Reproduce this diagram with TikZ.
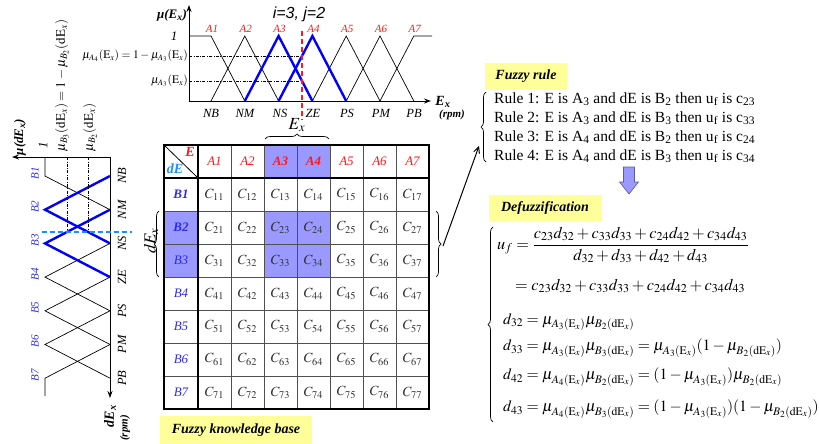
\documentclass[tikz,border=0pt]{standalone}
\usepackage{amsmath}
\usepackage{mathptmx}
\usepackage{fontspec}
\setmainfont{Liberation Serif}
\setsansfont{Liberation Sans}
\usetikzlibrary{decorations.pathreplacing,arrows.meta}
\definecolor{lav}{RGB}{153,153,255}
\definecolor{ylw}{RGB}{255,255,153}
\definecolor{ared}{RGB}{255,25,25}
\definecolor{bblue}{RGB}{45,45,235}
\definecolor{lblue}{RGB}{30,140,255}
\definecolor{gridc}{RGB}{80,80,80}
\begin{document}
\begin{tikzpicture}[x=1pt,y=-1pt,
  mf/.style={line width=0.7pt},
  bmf/.style={blue, line width=2.4pt},
  axisline/.style={line width=1pt,-{Stealth[length=7pt,width=5pt]}},
  ddot/.style={line width=0.6pt, dash pattern=on 3pt off 1.5pt on 0.7pt off 1.5pt},
  lingo/.style={font=\fontsize{12.5}{14}\selectfont\itshape, inner sep=0pt},
  alab/.style={font=\fontsize{11}{13}\selectfont\itshape, text=ared, inner sep=0pt},
  blab/.style={font=\fontsize{11}{13}\selectfont\itshape, text=bblue, inner sep=0pt, rotate=90},
  hdr/.style={font=\fontsize{13}{15}\selectfont\itshape, text=ared, inner sep=0pt},
  rowl/.style={font=\fontsize{13}{15}\selectfont\itshape, text=bblue, inner sep=0pt},
  cell/.style={font=\fontsize{14}{16}\selectfont, text=black!80, inner sep=0pt},
  mlab/.style={font=\fontsize{11.5}{13}\selectfont, inner sep=0pt},
  ybox/.style={fill=ylw, font=\fontsize{14}{16}\selectfont\bfseries\itshape, inner sep=0pt},
  rule/.style={font=\fontsize{15.5}{18}\selectfont, anchor=west, inner sep=0pt},
  eq/.style={font=\fontsize{16.3}{19}\selectfont, anchor=west, inner sep=0pt},
  deq/.style={font=\fontsize{15.7}{18}\selectfont, anchor=west, inner sep=0pt},
  brc/.style={decorate, decoration={brace, amplitude=5pt}, line width=0.7pt}
]
\useasboundingbox (0,0) rectangle (819,444);

% ===== top membership chart =====
\coordinate (o1) at (189,101);
\coordinate (x1) at (431,101);
\coordinate (y1) at (189,5);
\draw[mf] (189,36) -- (211,36) -- (244.8,101);
\draw[mf] (211,101) -- (244.8,36) -- (278.6,101);
\draw[mf] (244.8,101) -- (278.6,36) -- (312.4,101);
\draw[mf] (278.6,101) -- (312.4,36) -- (346.2,101);
\draw[mf] (312.4,101) -- (346.2,36) -- (380,101);
\draw[mf] (346.2,101) -- (380,36) -- (413.8,101);
\draw[mf] (380,101) -- (413.8,36) -- (432,36);
\draw[bmf] (244.8,101) -- (278.6,36) -- (312.4,101);
\draw[bmf] (278.6,101) -- (312.4,36) -- (346.2,101);
\draw[axisline] (o1) -- (x1);
\draw[axisline] (o1) -- (y1);
\draw[ddot] (189,56) -- (302,56);
\draw[ddot] (189,81) -- (302,81);
\draw[ared, line width=1.6pt, dash pattern=on 5pt off 3pt] (302,31) -- (302,120);

\foreach \k/\x in {1/212,2/245.8,3/279.6,4/313.4,5/347.2,6/381,7/414.8}
  \node[alab] (A\k) at (\x,29) {A\k};
\foreach \t/\x in {NB/211,NM/245,NS/280,ZE/313,PS/347,PM/381,PB/414}
  \node[lingo] (t\t) at (\x,113) {\t};
\node[font=\fontsize{16}{18}\selectfont\sffamily\itshape, inner sep=0pt] (ij) at (299,14) {i=3, j=2};
\node[font=\fontsize{13}{15}\selectfont\bfseries\itshape, inner sep=0pt] (muE) at (172,15) {μ(E\textsubscript{x})};
\node[font=\fontsize{13}{15}\selectfont\itshape, inner sep=0pt] (one1) at (174,36) {1};
\node[mlab, anchor=east] (muA4) at (188,56) {$\mu_{A_4}(\mathrm{E}_x)=1-\mu_{A_3}(\mathrm{E}_x)$};
\node[mlab, anchor=east] (muA3) at (188,81) {$\mu_{A_3}(\mathrm{E}_x)$};
\node[font=\fontsize{14}{16}\selectfont\bfseries\itshape, inner sep=0pt] (Exl) at (443,102) {E\textsubscript{x}};
\node[font=\fontsize{11}{13}\selectfont\bfseries\itshape, inner sep=0pt] (rpm1) at (452,115) {(rpm)};

% ===== left membership chart =====
\coordinate (o2) at (110,157);
\coordinate (x2) at (110,398);
\coordinate (y2) at (12,157);
\draw[mf] (45,157) -- (45,176) -- (110,209.7);
\draw[mf] (110,176) -- (45,209.7) -- (110,243.4);
\draw[mf] (110,209.7) -- (45,243.4) -- (110,277.1);
\draw[mf] (110,243.4) -- (45,277.1) -- (110,310.8);
\draw[mf] (110,277.1) -- (45,310.8) -- (110,344.5);
\draw[mf] (110,310.8) -- (45,344.5) -- (110,378.2);
\draw[mf] (110,344.5) -- (45,378.2) -- (45,396);
\draw[bmf] (110,176) -- (45,209.7) -- (110,243.4);
\draw[bmf] (110,209.7) -- (45,243.4) -- (110,277.1);
\draw[axisline] (o2) -- (x2);
\draw[axisline] (o2) -- (y2);
\draw[ddot] (67,157) -- (67,232);
\draw[ddot] (88,157) -- (88,232);
\draw[lblue, line width=1.5pt, dash pattern=on 5pt off 3pt] (42,232) -- (132,232);

\foreach \k/\y in {1/173,2/206.7,3/240.4,4/274.1,5/307.8,6/341.5,7/375.2}
  \node[blab] (B\k) at (35,\y) {B\k};
\foreach \t/\y in {NB/176,NM/209.7,NS/243.4,ZE/277.1,PS/310.8,PM/344.5,PB/378.2}
  \node[lingo, rotate=90] (s\t) at (122,\y) {\t};
\node[font=\fontsize{13}{15}\selectfont\bfseries\itshape, inner sep=0pt, rotate=90] (mudE) at (20,137) {μ(dE\textsubscript{x})};
\node[font=\fontsize{13}{15}\selectfont\itshape, inner sep=0pt, rotate=90] (one2) at (43,145) {1};
\node[font=\fontsize{13}{15}\selectfont, inner sep=0pt, rotate=90, anchor=west] (muB3) at (62,152) {$\mu_{B_3}(\mathrm{dE}_x)=1-\mu_{B_2}(\mathrm{dE}_x)$};
\node[font=\fontsize{13}{15}\selectfont, inner sep=0pt, rotate=90, anchor=west] (muB2) at (90,152) {$\mu_{B_2}(\mathrm{dE}_x)$};
\node[font=\fontsize{14}{16}\selectfont\bfseries\itshape, inner sep=0pt, rotate=90] (dExl) at (110,416) {dE\textsubscript{x}};
\node[font=\fontsize{11}{13}\selectfont\bfseries\itshape, inner sep=0pt, rotate=90] (rpm2) at (125,428) {(rpm)};

% ===== table =====
\fill[lav] (264,145) rectangle (330,178);
\fill[lav] (164,211) rectangle (198,277);
\fill[lav] (264,211) rectangle (330,277);
\foreach \x in {231,264,297,330,363,396}
  \draw[gridc, line width=0.7pt] (\x,145) -- (\x,409);
\foreach \y in {211,244,277,310,343,376}
  \draw[gridc, line width=0.7pt] (164,\y) -- (429,\y);
\draw[line width=1.8pt] (164,178) -- (429,178);
\draw[line width=1.8pt] (198,145) -- (198,409);
\draw[line width=1.8pt] (164,145) rectangle (429,409);
\draw[line width=0.8pt] (164,145) -- (198,178);
\node[font=\fontsize{14}{16}\selectfont\bfseries\itshape, text=ared, inner sep=0pt] (cE) at (190,152) {E};
\node[font=\fontsize{14}{16}\selectfont\bfseries\itshape, text=lblue, inner sep=0pt] (cdE) at (175,169) {dE};
\foreach \j in {1,...,7}{
  \pgfmathsetmacro{\cx}{214.5+33*(\j-1)}
  \ifnum\j=3 \node[hdr, font=\fontsize{13}{15}\selectfont\bfseries\itshape] (h\j) at (\cx,161.5) {A\j};
  \else\ifnum\j=4 \node[hdr, font=\fontsize{13}{15}\selectfont\bfseries\itshape] (h\j) at (\cx,161.5) {A\j};
  \else \node[hdr] (h\j) at (\cx,161.5) {A\j};\fi\fi
}
\foreach \i in {1,...,7}{
  \pgfmathsetmacro{\cy}{194.5+33*(\i-1)}
  \ifnum\i<3 \node[rowl, font=\fontsize{13}{15}\selectfont\bfseries\itshape] (r\i) at (181,\cy) {B\i};
  \else \node[rowl] (r\i) at (181,\cy) {B\i};\fi
  \foreach \j in {1,...,7}{
    \pgfmathsetmacro{\cx}{214.5+33*(\j-1)}
    \node[cell] (c\i\j) at (\cx,\cy) {$C_{\i\j}$};
  }
}
% braces
\draw[brc] (265,139) -- (329,139);
\node[font=\fontsize{17}{19}\selectfont, inner sep=0pt] (Exb) at (297,125) {$E_x$};
\draw[brc] (159,277) -- (159,211);
\node[font=\fontsize{17}{19}\selectfont, inner sep=0pt, rotate=90] (dExb) at (151,241) {$dE_x$};
\draw[brc] (436,211) -- (436,277);
\node[ybox, minimum width=152pt, minimum height=28pt] (kb) at (236,430) {Fuzzy knowledge base};

% ===== rules =====
\node[ybox, minimum width=82pt, minimum height=26pt] (fr) at (526,76) {Fuzzy rule};
\draw[brc] (486,162) -- (486,92);
\node[rule] (ru1) at (494,99) {Rule 1: E is A\textsubscript{3} and dE is B\textsubscript{2} then u\textsubscript{f} is c\textsubscript{23}};
\node[rule] (ru2) at (494,118) {Rule 2: E is A\textsubscript{3} and dE is B\textsubscript{3} then u\textsubscript{f} is c\textsubscript{33}};
\node[rule] (ru3) at (494,137) {Rule 3: E is A\textsubscript{4} and dE is B\textsubscript{2} then u\textsubscript{f} is c\textsubscript{24}};
\node[rule] (ru4) at (494,156) {Rule 4: E is A\textsubscript{4} and dE is B\textsubscript{3} then u\textsubscript{f} is c\textsubscript{34}};
\coordinate (tbt) at (443,246);
\coordinate (rbt) at (479,146);
\draw[line width=1pt, -{Straight Barb[length=6pt,width=6pt]}] (tbt) -- (rbt);
\draw[draw=lav!60!black, fill=lav, line width=0.6pt] (623.5,167) -- (634.5,167) -- (634.5,182) -- (638.5,182) -- (629,194) -- (619.5,182) -- (623.5,182) -- cycle;

% ===== defuzzification =====
\node[ybox, minimum width=113pt, minimum height=26pt] (df) at (545,208) {Defuzzification};
\draw[brc] (493,422) -- (493,227);
\node[eq] (e1) at (497,245) {$u_f=\dfrac{c_{23}d_{32}+c_{33}d_{33}+c_{24}d_{42}+c_{34}d_{43}}{d_{32}+d_{33}+d_{42}+d_{43}}$};
\node[eq] (e2) at (515,286) {$=c_{23}d_{32}+c_{33}d_{33}+c_{24}d_{42}+c_{34}d_{43}$};
\node[deq] (e3) at (503,322) {$d_{32}=\mu_{A_3(\mathrm{E}_x)}\mu_{B_2(\mathrm{dE}_x)}$};
\node[deq] (e4) at (503,348) {$d_{33}=\mu_{A_3(\mathrm{E}_x)}\mu_{B_3(\mathrm{dE}_x)}=\mu_{A_3(\mathrm{E}_x)}(1-\mu_{B_2(\mathrm{dE}_x)})$};
\node[deq] (e5) at (503,377) {$d_{42}=\mu_{A_4(\mathrm{E}_x)}\mu_{B_2(\mathrm{dE}_x)}=(1-\mu_{A_3(\mathrm{E}_x)})\mu_{B_2(\mathrm{dE}_x)}$};
\node[deq] (e6) at (503,409) {$d_{43}=\mu_{A_4(\mathrm{E}_x)}\mu_{B_3(\mathrm{dE}_x)}=(1-\mu_{A_3(\mathrm{E}_x)})(1-\mu_{B_2(\mathrm{dE}_x)})$};
\end{tikzpicture}
\end{document}
